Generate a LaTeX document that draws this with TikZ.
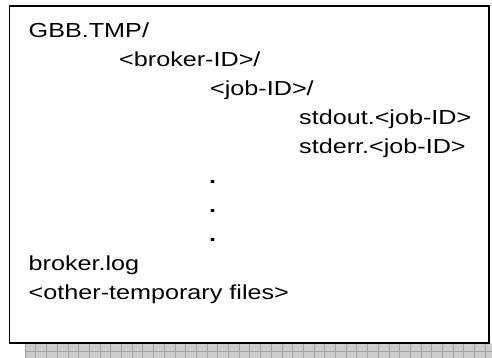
\documentclass[tikz,border=0pt]{standalone}
\usepackage{fontspec}
\setmainfont{Liberation Sans}[FakeStretch=1.24]
\begin{document}
\begin{tikzpicture}[x=1pt,y=-1pt,
  entry/.style={anchor=base west,inner sep=0pt,font=\fontsize{20.3}{29}\selectfont},
  frame/.style={draw=black,line width=1.5pt,fill=white},
  shade/.style={fill=black!20,draw=none},
  shadeline/.style={draw=black!36,line width=0.6pt}]
  \useasboundingbox (0,0) rectangle (492,358);
  % drop shadow strip under the frame
  \fill[shade] (25,343) rectangle (492,358);
  \foreach \k in {0,...,43} {
    \draw[shadeline] (25+10.7*\k,344) -- (25+10.7*\k,358);
  }
  \draw[shadeline] (25,351.5) -- (492,351.5);
  % frame
  \draw[frame] (9.5,6) rectangle (489,343);
  % directory tree
  \node[entry] (root)   at (28.5,38)  {GBB.TMP/};
  \node[entry] (broker) at (119,67)   {<broker-ID>/};
  \node[entry] (job)    at (210,96)   {<job-ID>/};
  \node[entry] (out)    at (299,125)  {stdout.<job-ID>};
  \node[entry] (err)    at (299,154)  {stderr.<job-ID>};
  \node[entry] (d1)     at (209,183) {\textbf{.}};
  \node[entry] (d2)     at (209,212) {\textbf{.}};
  \node[entry] (d3)     at (209,241) {\textbf{.}};
  \node[entry] (log)    at (28.5,270) {broker.log};
  \node[entry] (other)  at (28.5,299) {<other-temporary files>};
\end{tikzpicture}
\end{document}
